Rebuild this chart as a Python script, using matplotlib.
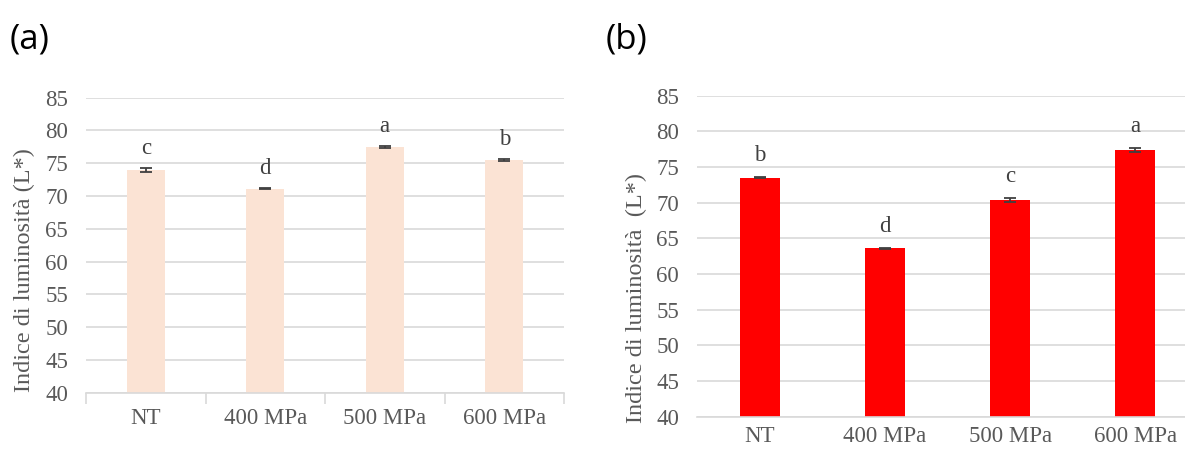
import matplotlib
matplotlib.use('Agg')
import matplotlib.pyplot as plt
import numpy as np

# values
categories = ['NT', '400 MPa', '500 MPa', '600 MPa']
lum_a = [73.9, 71.1, 77.5, 75.5]
err_a = [0.3, 0.1, 0.1, 0.1]
letters_a = ['c', 'd', 'a', 'b']
lum_b = [73.5, 63.6, 70.4, 77.4]
err_b = [0.1, 0.1, 0.3, 0.3]
letters_b = ['b', 'd', 'c', 'a']
yticks = [40, 45, 50, 55, 60, 65, 70, 75, 80, 85]

serif = ['Liberation Serif', 'DejaVu Serif']
gray = '#595959'
dark = '#404040'
grid_col = '#d9d9d9'

plt.rcParams['font.family'] = serif

fig = plt.figure(figsize=(11.85, 4.5), dpi=100)
W, H = 1185, 450


def make_axes(left, top, right, bottom):
    return fig.add_axes([left / W, 1 - bottom / H, (right - left) / W, (bottom - top) / H])


def draw_panel(ax, values, errors, letters, color, xmax, boundary_ticks, xpad):
    x = np.arange(len(categories))
    ax.bar(x, values, width=0.32, color=color, zorder=2)
    ax.errorbar(x, values, yerr=errors, fmt='none', ecolor=dark, elinewidth=1.3,
                capsize=4, capthick=1.3, zorder=3)
    for xi, v, e, lab in zip(x, values, errors, letters):
        ax.text(xi, v + e + 3.0, lab, ha='center', va='center', fontsize=16.5,
                color=dark, family=serif)
    ax.set_ylim(40, 85)
    ax.set_xlim(-0.5, xmax)
    ax.set_yticks(yticks)
    ax.set_yticklabels([str(t) for t in yticks])
    ax.set_xticks(x)
    ax.set_xticklabels(categories)
    ax.tick_params(axis='y', length=0, pad=13, labelsize=16.5, labelcolor=gray)
    ax.tick_params(axis='x', which='major', length=0, pad=xpad, labelsize=16.5, labelcolor=gray)
    ax.grid(axis='y', color=grid_col, linewidth=1.2, zorder=0)
    ax.set_axisbelow(True)
    for s in ['top', 'right', 'left']:
        ax.spines[s].set_visible(False)
    ax.spines['bottom'].set_color(grid_col)
    ax.spines['bottom'].set_linewidth(1.2)
    if boundary_ticks:
        ax.set_xticks(np.arange(-0.5, len(categories)), minor=True)
        ax.tick_params(axis='x', which='minor', length=8, width=1.2, color=grid_col)
    else:
        ax.tick_params(axis='x', which='minor', length=0)


ax_a = make_axes(86, 97.7, 564, 392.7)
draw_panel(ax_a, lum_a, err_a, letters_a, '#FBE3D4', 3.5, True, 11)

ax_b = make_axes(697.3, 95.7, 1185, 416.7)
draw_panel(ax_b, lum_b, err_b, letters_b, '#FF0000', 3.396, False, 7)

fig.text(24 / W, 1 - 270 / H, 'Indice di luminosità (L*)', rotation=90, ha='center',
         va='center', fontsize=17.5, color=gray, family=serif)
fig.text(636 / W, 1 - 298 / H, 'Indice di luminosità  (L*)', rotation=90, ha='center',
         va='center', fontsize=17.5, color=gray, family=serif)

fig.text(10 / W, 1 - 40 / H, '(a)', ha='left', va='center', fontsize=25,
         color='black', family=['Open Sans', 'DejaVu Sans'])
fig.text(606 / W, 1 - 40 / H, '(b)', ha='left', va='center', fontsize=25,
         color='black', family=['Open Sans', 'DejaVu Sans'])

fig.savefig('out.png', dpi=100)
